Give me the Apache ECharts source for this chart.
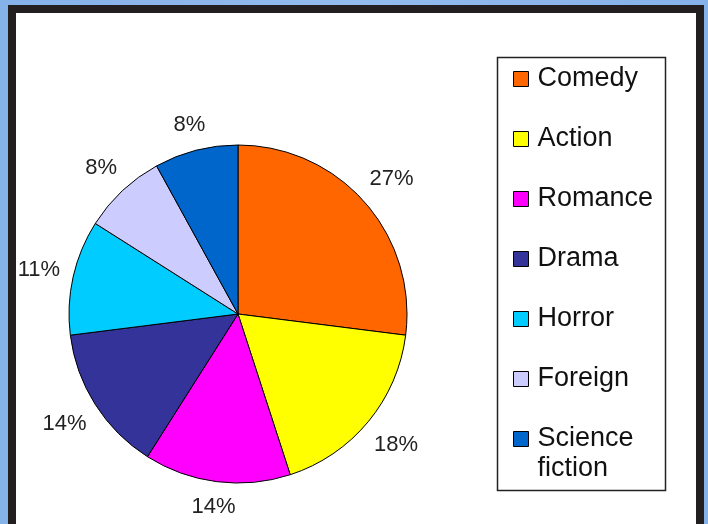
<!DOCTYPE html>
<html>
<head>
<meta charset="utf-8">
<script src="https://cdn.jsdelivr.net/npm/echarts@6/dist/echarts.min.js"></script>
<style>
  html, body { margin: 0; padding: 0; }
  body {
    width: 708px; height: 524px; overflow: hidden; position: relative;
    background: linear-gradient(90deg, #86b2ea, #93bbee 50%, #86b2ea);
  }
  .frame {
    position: absolute; left: 8px; top: 5px; width: 680px; height: 600px;
    border: 8px solid #231f20; background: #fff;
  }
  #chart { position: absolute; left: 0; top: 0; width: 708px; height: 524px; }
</style>
</head>
<body>
<div class="frame"></div>
<div id="chart"></div>
<script>
const categories = ['Comedy', 'Action', 'Romance', 'Drama', 'Horror', 'Foreign', 'Science fiction'];
const values = [27, 18, 14, 14, 11, 8, 8];
const colors = ['#ff6600', '#ffff00', '#ff00ff', '#333399', '#00ccff', '#ccccff', '#0066cc'];

const CX = 238, CY = 314, R = 169;
const LABEL_GAP = 12;

const chartDom = document.getElementById('chart');
const myChart = echarts.init(chartDom, null, { renderer: 'canvas' });

const legendText = {
    fontFamily: 'Liberation Sans',
    fontSize: 27,
    color: '#111',
    lineHeight: 30,
    padding: [0, 0, 0, 4]
};

// push each label out along its slice direction so its near edge sits just off the rim
const placeLabel = (params) => {
    const lr = params.labelRect;
    const lx = lr.x + lr.width / 2;
    const ly = lr.y + lr.height / 2;
    const d = Math.hypot(lx - CX, ly - CY) || 1;
    const ux = (lx - CX) / d, uy = (ly - CY) / d;
    const ext = Math.abs(ux) * lr.width / 2 + Math.abs(uy) * lr.height / 2;
    const dist = R + LABEL_GAP + ext;
    return { x: CX + ux * dist, y: CY + uy * dist, align: 'center', verticalAlign: 'middle' };
};

const option = {
    backgroundColor: 'transparent',
    animation: false,
    color: colors,
    graphic: [
        {
            type: 'rect',
            shape: { x: 497.5, y: 57.5, width: 168, height: 433 },
            style: { fill: 'none', stroke: '#222', lineWidth: 1.5 }
        }
    ],
    legend: [
        {
            orient: 'vertical',
            left: 513,
            top: 64,
            padding: 0,
            itemWidth: 15,
            itemHeight: 15,
            itemGap: 30,
            icon: 'rect',
            itemStyle: { borderColor: '#000', borderWidth: 1 },
            textStyle: legendText,
            data: categories.slice(0, 6)
        },
        {
            // two-line entry: leading blank line keeps the icon level with "Science"
            orient: 'vertical',
            left: 513,
            top: 394,
            padding: 0,
            itemWidth: 15,
            itemHeight: 15,
            icon: 'rect',
            itemStyle: { borderColor: '#000', borderWidth: 1 },
            textStyle: legendText,
            formatter: () => '\nScience\nfiction',
            data: categories.slice(6)
        }
    ],
    series: [
        {
            type: 'pie',
            center: [CX, CY],
            radius: R,
            startAngle: 90,
            clockwise: true,
            itemStyle: { borderColor: '#000', borderWidth: 1 },
            emphasis: { disabled: true },
            label: {
                show: true,
                position: 'inside',
                formatter: (p) => p.value + '%',
                fontFamily: 'Liberation Sans',
                fontSize: 22,
                color: '#222'
            },
            labelLine: { show: false },
            labelLayout: placeLabel,
            data: categories.map((name, i) => ({ name: name, value: values[i] }))
        }
    ]
};

myChart.setOption(option);
</script>
</body>
</html>
